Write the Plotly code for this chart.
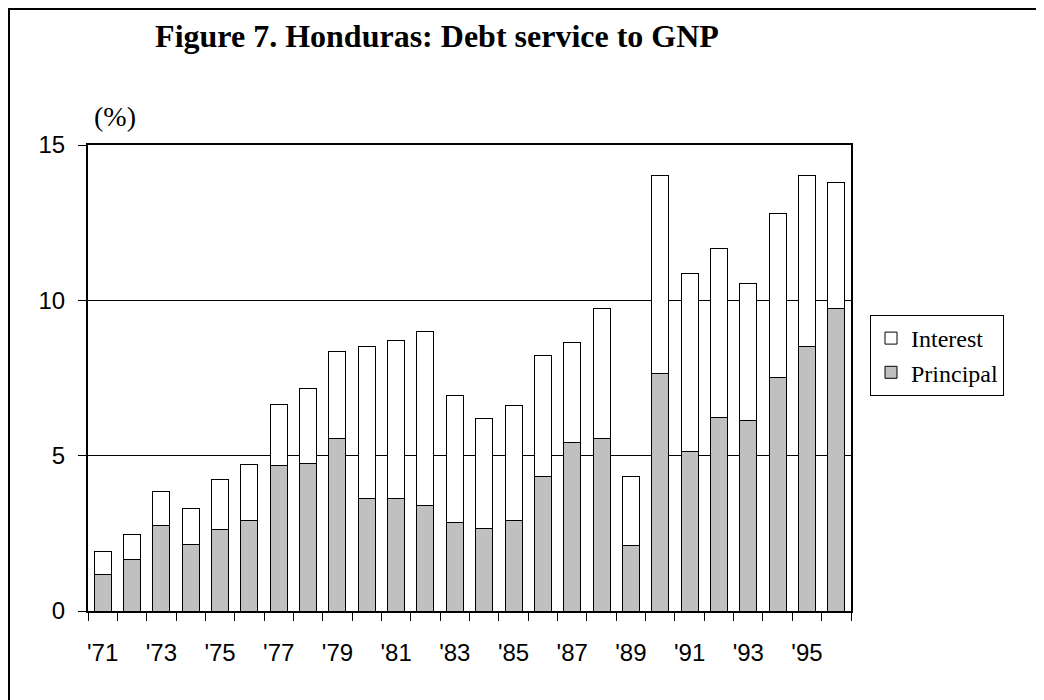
import plotly.graph_objects as go

years = [str(y) for y in range(1971, 1997)]
year_labels = ["'" + y[2:] if int(y) % 2 == 1 else "" for y in years]

total = [1.91, 2.45, 3.85, 3.30, 4.22, 4.72, 6.64, 7.15, 8.36, 8.50, 8.72, 8.99, 6.95,
         6.19, 6.60, 8.23, 8.65, 9.74, 4.33, 14.02, 10.85, 11.67, 10.54, 12.78, 14.02, 13.80]
principal = [1.19, 1.67, 2.75, 2.13, 2.63, 2.91, 4.67, 4.75, 5.55, 3.61, 3.61, 3.38, 2.85,
             2.67, 2.90, 4.33, 5.43, 5.55, 2.12, 7.63, 5.12, 6.23, 6.12, 7.51, 8.50, 9.75]
interest = [round(t - p, 2) for t, p in zip(total, principal)]

y_ticks = [0, 5, 10, 15]

fig = go.Figure()
fig.add_trace(go.Bar(x=years, y=principal, name="Principal",
                     marker=dict(color="#C0C0C0", line=dict(color="black", width=1))))
fig.add_trace(go.Bar(x=years, y=interest, name="Interest",
                     marker=dict(color="white", line=dict(color="black", width=1))))

PW, PH = 763, 466  # plot area size in px (for paper-relative placement)

fig.update_layout(
    width=1036, height=692,
    margin=dict(l=80, r=193, t=137, b=89, autoexpand=False),
    paper_bgcolor="white", plot_bgcolor="white",
    barmode="stack", bargap=0.42,
    showlegend=True,
    legend=dict(x=(870 - 88) / PW, y=(611 - 315) / PH, xanchor="left", yanchor="top",
                traceorder="reversed", bordercolor="black", borderwidth=1,
                bgcolor="white", font=dict(family="Liberation Serif", size=24, color="black"),
                itemwidth=30, tracegroupgap=0),
    title=dict(text="<b>Figure 7. Honduras: Debt service to GNP</b>",
               x=(437 - 8) / 1036, xanchor="center", y=1 - (36 - 8) / 692, yanchor="middle",
               font=dict(family="Liberation Serif", size=32, color="black")),
    xaxis=dict(type="category", tickvals=years, ticktext=year_labels, tickangle=0,
               tickson="boundaries", ticks="outside", ticklen=8, tickwidth=1, tickcolor="black",
               showline=True, linecolor="black", linewidth=2, mirror=True,
               showgrid=False, ticklabelstandoff=19,
               tickfont=dict(family="Liberation Sans", size=24, color="black")),
    yaxis=dict(range=[0, 15], tickvals=y_ticks, ticks="outside", ticklen=8, tickwidth=1,
               tickcolor="black", showline=True, linecolor="black", linewidth=2, mirror=True,
               showgrid=True, gridcolor="black", gridwidth=1, zeroline=False,
               ticklabelstandoff=8,
               tickfont=dict(family="Liberation Sans", size=24, color="black")),
    annotations=[dict(text="(%)", xref="paper", yref="paper", x=(115 - 88) / PW,
                      y=(611 - 117) / PH,
                      xanchor="center", yanchor="middle", showarrow=False,
                      font=dict(family="Liberation Serif", size=28, color="black"))],
    shapes=[dict(type="rect", xref="paper", yref="paper",
                 x0=(9 - 88) / PW, x1=1.35, y0=-0.3, y1=(611 - 9) / PH,
                 line=dict(color="black", width=2), fillcolor="rgba(0,0,0,0)", layer="above")],
)

fig.write_html("out.html")
